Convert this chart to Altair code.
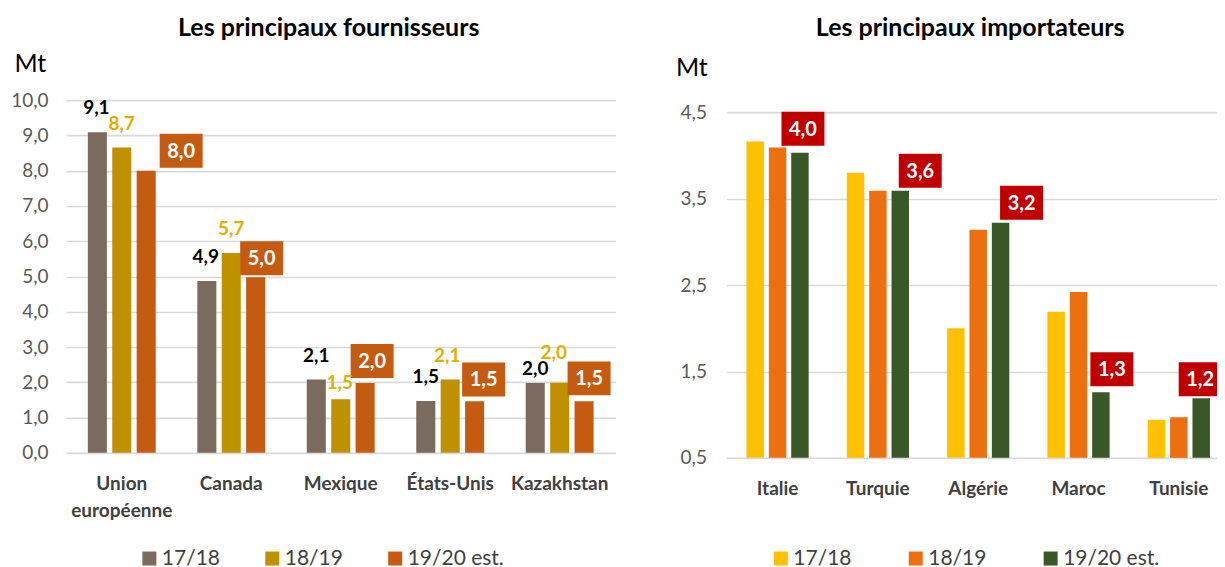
import altair as alt
import pandas as pd

# ---------------- data ----------------
series = ["17/18", "18/19", "19/20 est."]

f_categories = ["Union européenne", "Canada", "Mexique", "États-Unis", "Kazakhstan"]
f_1718 = [9.09, 4.87, 2.08, 1.47, 1.98]
f_1819 = [8.66, 5.67, 1.52, 2.08, 1.99]
f_1920 = [8.00, 4.98, 1.98, 1.46, 1.46]
f_colors = ["#7B6A5E", "#BF9000", "#C55A11"]
f_ticks = [0, 1, 2, 3, 4, 5, 6, 7, 8, 9, 10]

i_categories = ["Italie", "Turquie", "Algérie", "Maroc", "Tunisie"]
i_1718 = [4.16, 3.80, 2.00, 2.19, 0.94]
i_1819 = [4.09, 3.59, 3.14, 2.42, 0.97]
i_1920 = [4.03, 3.59, 3.22, 1.26, 1.19]
i_colors = ["#FFC000", "#ED7010", "#3A5728"]
i_ticks = [0.5, 1.5, 2.5, 3.5, 4.5]

# label placement nudges (px, relative to the top centre of each bar), as in the source
f_nudge_1718 = [(-1, -24), (-1, -24), (0, -24), (0, -24), (0, -14)]
f_nudge_1819 = [(0, -23), (0, -24), (-1, -16), (-3, -24), (-6, -30)]
f_nudge_1920 = [(35, -20), (6, -19), (7, -22), (9, -22), (5, -23)]
i_nudge_1920 = [(3, -24), (20, -20), (21, -20), (11, -23), (-1, -19)]
no_nudge = [(0, -24)] * 5

FONT = "Lato"
BOX_W, BOX_H = 43.0, 34.0
BOX_SIZE = BOX_H * BOX_H


def box_path(dx, dy):
    s = BOX_H / 2.0
    cx, cy = dx / s, dy / s
    hw, hh = BOX_W / 2.0 / s, 1.0
    return (f"M{cx - hw:.3f},{cy - hh:.3f}L{cx + hw:.3f},{cy - hh:.3f}"
            f"L{cx + hw:.3f},{cy + hh:.3f}L{cx - hw:.3f},{cy + hh:.3f}Z")


def long_df(cats, vals, nudges):
    rows = []
    for s, v, nd in zip(series, vals, nudges):
        for c, x, (ndx, ndy) in zip(cats, v, nd):
            rows.append({"cat": c, "serie": s, "value": x,
                         "label": f"{x:.1f}".replace(".", ","),
                         "ndx": ndx, "ndy": ndy, "bpath": box_path(ndx, ndy)})
    return pd.DataFrame(rows)


def make_chart(cats, vals, nudges, colors, ticks, domain, title, title_offset, title_dx,
               w, h, box_color, plain_labels, legend_x, legend_y, legend_pad,
               mt_x, mt_y, ylab_pad):
    df = long_df(cats, vals, nudges)
    x = alt.X("cat:N", sort=cats, title=None,
              scale=alt.Scale(paddingInner=0.38, paddingOuter=0.2),
              axis=alt.Axis(labelAngle=0, domain=False, ticks=False, grid=False,
                            labelFontSize=19, labelFontWeight="bold",
                            labelColor="#404040", labelPadding=22, labelFont=FONT,
                            labelLineHeight=27, labelLimit=200,
                            labelExpr="datum.value == 'Union européenne' ? ['Union', 'européenne'] : datum.value"))
    xo = alt.XOffset("serie:N", sort=series, scale=alt.Scale(paddingInner=0.22))
    y = alt.Y("value:Q", scale=alt.Scale(domain=domain, zero=False, nice=False),
              axis=alt.Axis(values=ticks, grid=True, gridColor="#D9D9D9", gridWidth=1.6,
                            domain=False, ticks=False, labelFontSize=19,
                            labelColor="#595959", labelFont=FONT, labelPadding=ylab_pad,
                            labelExpr="replace(format(datum.value, '.1f'), '.', ',')",
                            title="Mt", titleAngle=0, titleX=mt_x, titleY=mt_y,
                            titleAlign="left", titleBaseline="middle",
                            titleFontSize=25, titleFontWeight="normal",
                            titleColor="#000000", titleFont=FONT))
    base = alt.Chart(df)
    bars = base.mark_bar().encode(
        x=x, xOffset=xo, y=y, y2=alt.datum(domain[0]),
        color=alt.Color("serie:N", sort=series,
                        scale=alt.Scale(domain=series, range=colors),
                        legend=alt.Legend(title=None, orient="none", direction="horizontal",
                                          legendX=legend_x, legendY=legend_y,
                                          symbolType="square", symbolSize=196,
                                          symbolStrokeWidth=0, labelFontSize=21,
                                          labelColor="#404040", labelFont=FONT,
                                          labelOffset=2, columnPadding=legend_pad)),
    )
    layers = [bars]
    last = base.transform_filter(alt.datum.serie == series[2])
    layers.append(
        last.mark_point(size=BOX_SIZE, filled=True, opacity=1, color=box_color,
                        strokeWidth=0)
        .encode(x=x, xOffset=xo, y=y,
                shape=alt.Shape("bpath:N", scale=None, legend=None))
    )
    layers.append(
        last.mark_text(fontSize=20, fontWeight="bold", font=FONT, color="#FFFFFF",
                       baseline="middle", dx={"expr": "datum.ndx"},
                       dy={"expr": "datum.ndy + 1"})
        .encode(x=x, xOffset=xo, y=y, text="label:N")
    )
    for s, col in plain_labels:
        layers.append(
            base.transform_filter(alt.datum.serie == s)
            .mark_text(fontSize=19, fontWeight="bold", font=FONT, color=col,
                       baseline="middle", dx={"expr": "datum.ndx"},
                       dy={"expr": "datum.ndy"})
            .encode(x=x, xOffset=xo, y=y, text="label:N")
        )
    return alt.layer(*layers).properties(
        width=w, height=h,
        title=alt.TitleParams(title, frame="group", anchor="middle", offset=title_offset,
                              dx=title_dx, fontSize=25, fontWeight="bold",
                              color="#000000", font=FONT),
    )


left = make_chart(f_categories, [f_1718, f_1819, f_1920],
                  [f_nudge_1718, f_nudge_1819, f_nudge_1920],
                  f_colors, f_ticks, [0, 10],
                  "Les principaux fournisseurs", 10, -12, 550, 353, "#C55A11",
                  [("17/18", "#000000"), ("18/19", "#DDB000")],
                  73, 448, 41, -52, -37, 18)
right = make_chart(i_categories, [i_1718, i_1819, i_1920],
                   [no_nudge, no_nudge, i_nudge_1920],
                   i_colors, i_ticks, [0.5, 4.639],
                   "Les principaux importateurs", 14, -8, 504, 358, "#C00000",
                   [], 44, 448, 53, -51, -33, 20)

chart = alt.hconcat(left, right, spacing=58).resolve_scale(
    color="independent", x="independent", y="independent", xOffset="independent"
).properties(
    padding={"left": 2, "top": 7, "right": -14, "bottom": 0}
).configure(
    font=FONT, view=alt.ViewConfig(stroke="transparent")
)

chart.save("out.html", embed_options={"renderer": "svg", "actions": False})
